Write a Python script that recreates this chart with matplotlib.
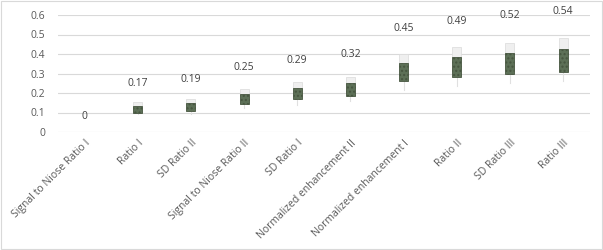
import matplotlib.pyplot as plt
from matplotlib.patches import Rectangle

categories = ['Signal to Niose Ratio I', 'Ratio I', 'SD Ratio II', 'Signal to Niose Ratio II',
              'SD Ratio I', 'Normalized enhancement II', 'Normalized enhancement I',
              'Ratio II', 'SD Ratio III', 'Ratio III']
labels = [0, 0.17, 0.19, 0.25, 0.29, 0.32, 0.45, 0.49, 0.52, 0.54]
high = [None, 0.153, 0.169, 0.22, 0.257, 0.281, 0.40, 0.434, 0.458, 0.48]
box_top = [None, 0.135, 0.147, 0.194, 0.228, 0.25, 0.353, 0.383, 0.407, 0.424]
box_bot = [None, 0.097, 0.109, 0.143, 0.169, 0.186, 0.262, 0.283, 0.298, 0.31]
low = [None, 0.09, 0.09, 0.123, 0.14, 0.157, 0.216, 0.237, 0.25, 0.259]

plt.rcParams['font.family'] = ['Open Sans', 'DejaVu Sans']

fig = plt.figure(figsize=(6.03, 2.5), dpi=100)
fig.patches.append(Rectangle((0.002, 0.004), 0.996, 0.992, transform=fig.transFigure,
                             fill=False, edgecolor='#d9d9d9', linewidth=0.8))
ax = fig.add_axes([0.096, 0.472, 0.882, 0.468])

w = 0.17
for i in range(len(categories)):
    if high[i] is not None:
        # lower wick
        ax.plot([i, i], [low[i], box_bot[i]], color='#e0e0e0', linewidth=0.8, zorder=2)
        # upper part (light)
        ax.add_patch(Rectangle((i - w / 2, box_top[i]), w, high[i] - box_top[i],
                               facecolor='#efefef', edgecolor='#dadada', linewidth=0.5, zorder=2))
        # box
        ax.add_patch(Rectangle((i - w / 2, box_bot[i]), w, box_top[i] - box_bot[i],
                               facecolor='#5d7057', edgecolor='#46553f', linewidth=0.6,
                               hatch='....', zorder=3))
    ax.annotate(str(labels[i]), (i, labels[i]), xytext=(0, 11), textcoords='offset points',
                ha='center', va='center', fontsize=7.5, color='#404040')

plt.rcParams['hatch.color'] = '#3d4a38'
ax.set_xlim(-0.5, len(categories) - 0.5)
ax.set_ylim(0, 0.6)
ax.set_yticks([0, 0.1, 0.2, 0.3, 0.4, 0.5, 0.6])
ax.set_yticklabels(['0', '0.1', '0.2', '0.3', '0.4', '0.5', '0.6'])
ax.set_xticks(range(len(categories)))
ax.set_xticklabels(categories, rotation=45, ha='right', rotation_mode='anchor')
ax.tick_params(axis='both', length=0, labelsize=7.5, labelcolor='#595959')
ax.tick_params(axis='y', pad=9)
ax.tick_params(axis='x', pad=4)
ax.grid(axis='y', color='#d9d9d9', linewidth=0.8)
ax.set_axisbelow(True)
for s in ax.spines.values():
    s.set_visible(False)

fig.savefig('out.png', dpi=100)
